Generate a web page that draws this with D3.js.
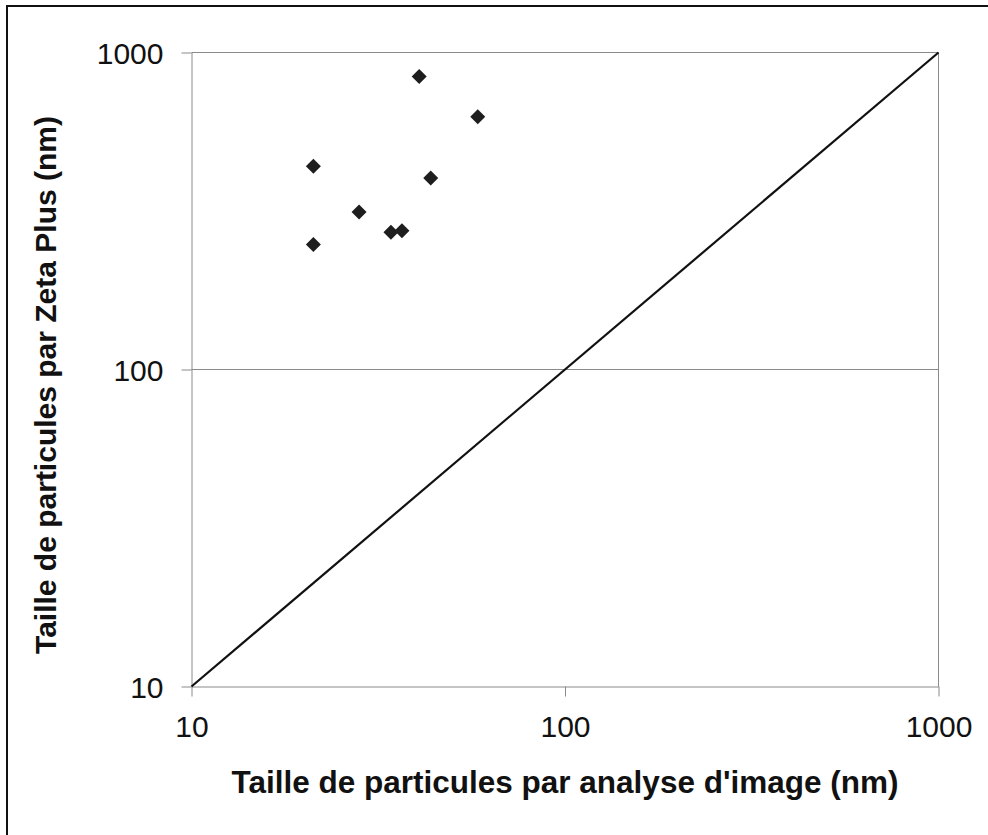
<!DOCTYPE html>
<html>
<head>
<meta charset="utf-8">
<script src="https://cdn.jsdelivr.net/npm/d3@7"></script>
<style>
  html, body { margin: 0; padding: 0; background: #fff; }
  svg { display: block; }
  text { font-family: "Liberation Sans", Arial, sans-serif; fill: #111; }
</style>
</head>
<body>
<svg id="chart" width="988" height="835"></svg>
<script>
// Data
const imageSize = [21.2, 43.7, 28.1, 34.2, 36.6, 21.2, 40.7, 58.4];   // x: analyse d'image (nm)
const zetaSize  = [438, 402, 314, 271, 274, 248, 840, 627];           // y: Zeta Plus (nm)
const diagonal  = [[10, 10], [1000, 1000]];                           // y = x reference line
const tickValues = [10, 100, 1000];
const tickLabels = ["10", "100", "1000"];
const xTitle = "Taille de particules par analyse d'image (nm)";
const yTitle = "Taille de particules par Zeta Plus (nm)";

const svg = d3.select("#chart");

// outer frame (right/bottom edges fall outside the picture)
svg.append("rect")
  .attr("x", 7).attr("y", 6).attr("width", 1000).attr("height", 850)
  .attr("fill", "none").attr("stroke", "#111").attr("stroke-width", 2);

const x = d3.scaleLog().domain([10, 1000]).range([191.5, 938.5]);
const y = d3.scaleLog().domain([10, 1000]).range([686.5, 52.5]);

const gridColor = "#8a8a8a";

// horizontal gridlines
svg.append("g").selectAll("line")
  .data(tickValues.slice(1))
  .join("line")
  .attr("x1", x(10)).attr("x2", x(1000))
  .attr("y1", d => y(d)).attr("y2", d => y(d))
  .attr("stroke", gridColor).attr("stroke-width", 1);

// right border of plot area
svg.append("line")
  .attr("x1", x(1000)).attr("x2", x(1000))
  .attr("y1", y(1000)).attr("y2", y(10))
  .attr("stroke", gridColor).attr("stroke-width", 1);

// axes
const fmt = d => tickLabels[tickValues.indexOf(d)];
const xAxis = d3.axisBottom(x).tickValues(tickValues).tickFormat(fmt).tickSizeInner(10).tickSizeOuter(0).tickPadding(19);
const yAxis = d3.axisLeft(y).tickValues(tickValues).tickFormat(fmt).tickSizeInner(10).tickSizeOuter(0).tickPadding(18);

const gx = svg.append("g").attr("transform", `translate(0,${y(10)})`).call(xAxis);
const gy = svg.append("g").attr("transform", `translate(${x(10)},0)`).call(yAxis);

[gx, gy].forEach(g => {
  g.select(".domain").attr("stroke", gridColor).attr("stroke-width", 1);
  g.selectAll(".tick line").attr("stroke", gridColor).attr("stroke-width", 1);
  g.selectAll(".tick text")
    .attr("font-family", "'Liberation Sans', Arial, sans-serif")
    .attr("font-size", 30).attr("fill", "#111");
});
gx.selectAll(".tick text").attr("dy", "0.71em");
gy.selectAll(".tick text").attr("dy", "0.36em");

// diagonal y = x line
svg.append("path")
  .datum(diagonal)
  .attr("d", d3.line().x(d => x(d[0])).y(d => y(d[1])))
  .attr("fill", "none").attr("stroke", "#111").attr("stroke-width", 2.2);

// diamond markers
const pts = imageSize.map((v, i) => [v, zetaSize[i]]);
svg.append("g").selectAll("path")
  .data(pts)
  .join("path")
  .attr("transform", d => `translate(${x(d[0])},${y(d[1])})`)
  .attr("d", "M0,-7.5L7.5,0L0,7.5L-7.5,0Z")
  .attr("fill", "#1e1e1e");

// axis titles
svg.append("text")
  .attr("x", x(100)).attr("y", 793)
  .attr("text-anchor", "middle")
  .attr("font-size", 31.5).attr("font-weight", "bold")
  .text(xTitle);

svg.append("text")
  .attr("transform", `translate(56,385) rotate(-90)`)
  .attr("text-anchor", "middle")
  .attr("font-size", 30).attr("font-weight", "bold")
  .text(yTitle);
</script>
</body>
</html>
